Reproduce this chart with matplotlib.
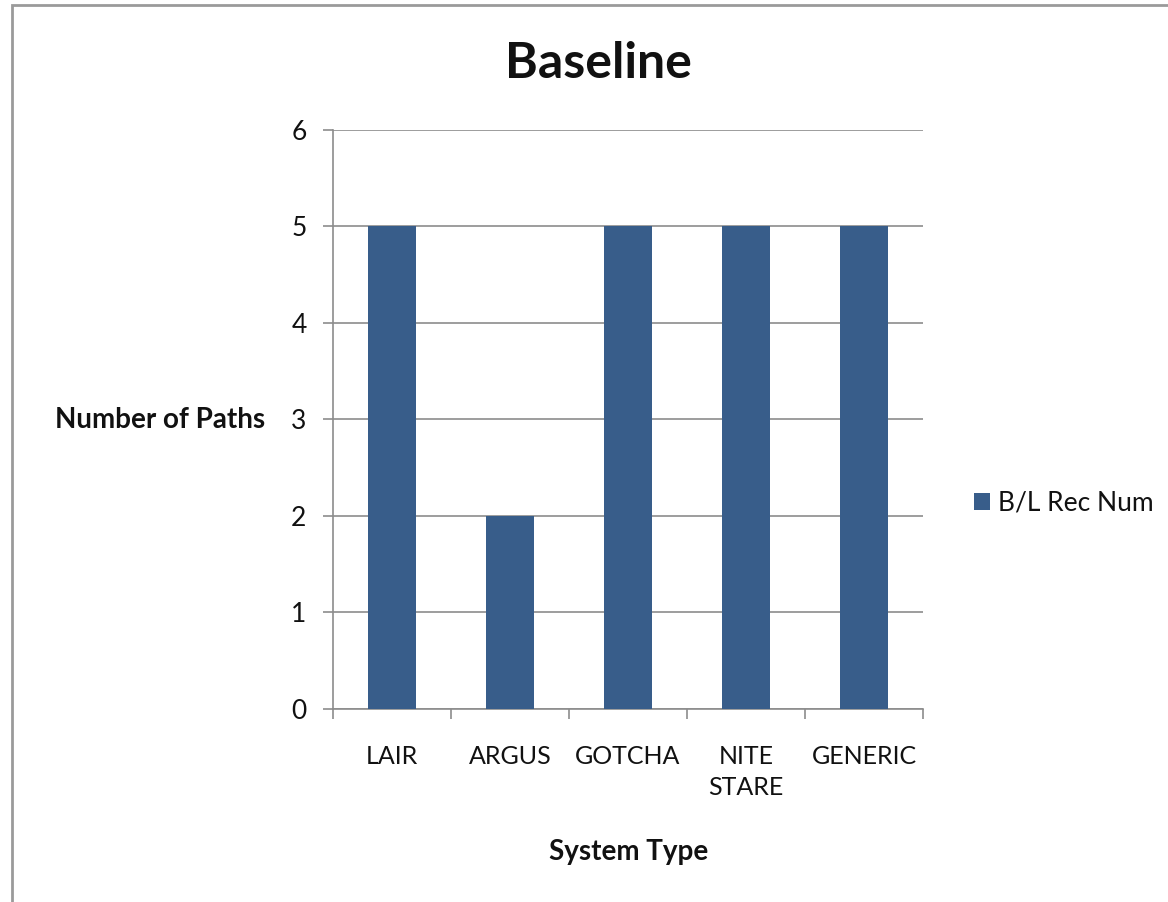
import matplotlib
matplotlib.use("Agg")
import matplotlib.pyplot as plt  # noqa: E402
import numpy as np  # noqa: E402
from matplotlib.patches import Rectangle  # noqa: E402

systems = ["LAIR", "ARGUS", "GOTCHA", "NITE\nSTARE", "GENERIC"]
rec_num = [5, 2, 5, 5, 5]
series_name = "B/L Rec Num"
yticks = [0, 1, 2, 3, 4, 5, 6]

BAR = "#385d8a"
GRID = "#8c8c8c"
TEXT = "#111111"

plt.rcParams["font.family"] = ["Lato", "DejaVu Sans"]
plt.rcParams["text.color"] = TEXT

fig = plt.figure(figsize=(11.68, 9.02), dpi=100)
ax = fig.add_axes([0.2851, 0.2140, 0.7902 - 0.2851, 0.8559 - 0.2140])

x = np.arange(len(systems))
ax.bar(x, rec_num, width=0.4, color=BAR, label=series_name, zorder=3)

ax.set_xlim(-0.5, len(systems) - 0.5)
ax.set_ylim(0, 6)
ax.set_yticks(yticks)
ax.yaxis.grid(True, color=GRID, lw=1.2, zorder=0)
ax.tick_params(axis="y", length=7, width=1.2, color=GRID, labelsize=19,
               pad=12, labelcolor=TEXT)
ax.set_xticks(x)
ax.set_xticklabels(systems, fontsize=18, linespacing=1.4, va="top",
                   color=TEXT)
ax.tick_params(axis="x", length=0, pad=26)
# category boundary ticks
ax.set_xticks(np.arange(-0.5, len(systems)), minor=True)
ax.tick_params(axis="x", which="minor", length=7, width=1.2, color=GRID)

for side in ("top", "right"):
    ax.spines[side].set_visible(False)
for side in ("left", "bottom"):
    ax.spines[side].set_color(GRID)
    ax.spines[side].set_linewidth(1.2)

fig.text(0.512, 0.930, "Baseline", ha="center", va="center",
         fontsize=36, fontweight="bold")
fig.text(0.137, 0.534, "Number of Paths", ha="center", va="center",
         fontsize=20, fontweight="bold")
fig.text(0.538, 0.055, "System Type", ha="center", va="center",
         fontsize=20, fontweight="bold")

fig.legend(loc="center left", bbox_to_anchor=(0.834, 0.442), frameon=False,
           fontsize=19, handlelength=0.6, handleheight=0.6, handletextpad=0.3,
           borderpad=0, borderaxespad=0)

fig.patches.append(Rectangle((12 / 1168, -0.1), 1.2, 1.1 - 5 / 902,
                             transform=fig.transFigure, fill=False,
                             edgecolor="#9a9a9a", lw=2))

fig.savefig("out.png", dpi=100)
